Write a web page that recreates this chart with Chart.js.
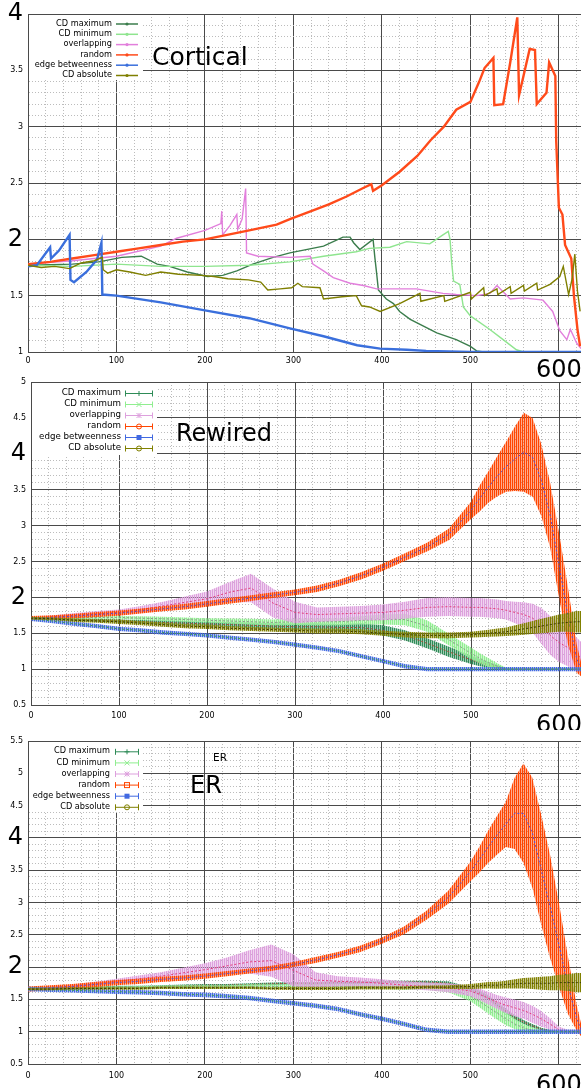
<!DOCTYPE html>
<html>
<head>
<meta charset="utf-8">
<script src="https://cdn.jsdelivr.net/npm/chart.js@4.4.0/dist/chart.umd.min.js"></script>
<style>
  html, body { margin: 0; padding: 0; background: #fff; }
  body { width: 581px; height: 1088px; position: relative; overflow: hidden; }
  canvas { position: absolute; left: 0; }
</style>
</head>
<body>
<canvas id="cortical" width="581" height="382" style="top:0px"></canvas>
<canvas id="rewired" width="581" height="354" style="top:376px"></canvas>
<canvas id="er" width="581" height="358" style="top:730px"></canvas>
<script>
const FONT = 'DejaVu Sans';

const seriesNames = ['CD maximum', 'CD minimum', 'overlapping', 'random', 'edge betweenness', 'CD absolute'];
const cortColors = ['#3b7d4c', '#8fe58f', '#e27fdc', '#ff4a1a', '#3a6fdc', '#7f7f00'];
const bandColors = ['#2e8b57', '#90ee90', '#dda0dd', '#ff4500', '#4169e1', '#808000'];
const centerColors = ['#a8503a', '#8a9a8a', '#e0407a', '#5a4fd0', '#40a050', '#3c3c00'];

const xLabelValues = [0, 100, 200, 300, 400, 500, 600];
const bigXLabels = [600];
const bigYLabels = [2, 4];
const xMax = 625;

// ---- Cortical (single run, own x positions per series)
const cortMaxX = [0, 50, 80, 106, 128, 146, 160, 180, 203, 220, 236, 254, 277, 296, 334, 356, 364, 368, 375, 390, 392, 394, 396, 405, 413, 420, 432, 462, 484, 500, 507, 515, 625];
const cortMaxY = [1.77, 1.78, 1.80, 1.84, 1.85, 1.78, 1.76, 1.71, 1.67, 1.68, 1.72, 1.78, 1.84, 1.88, 1.94, 2.02, 2.02, 1.97, 1.91, 2.00, 1.84, 1.70, 1.55, 1.47, 1.43, 1.36, 1.29, 1.17, 1.11, 1.05, 1.01, 1.00, 1.00];

const cortMinX = [0, 50, 100, 150, 200, 250, 296, 334, 371, 386, 409, 428, 454, 469, 475, 477, 479, 481, 488, 492, 500, 522, 537, 552, 560, 625];
const cortMinY = [1.77, 1.76, 1.78, 1.76, 1.76, 1.77, 1.80, 1.85, 1.89, 1.92, 1.93, 1.98, 1.96, 2.04, 2.07, 2.00, 1.78, 1.63, 1.60, 1.40, 1.32, 1.20, 1.11, 1.02, 1.00, 1.00];

const cortOverX = [0, 50, 100, 150, 168, 200, 218, 219, 220, 228, 236, 237, 242, 246, 247, 260, 296, 319, 322, 334, 345, 364, 379, 394, 409, 439, 469, 484, 507, 522, 530, 545, 560, 582, 593, 601, 609, 613, 620, 625];
const cortOverY = [1.78, 1.81, 1.85, 1.94, 2.01, 2.08, 2.14, 2.25, 2.04, 2.12, 2.22, 2.09, 2.18, 2.45, 1.88, 1.85, 1.84, 1.85, 1.78, 1.72, 1.66, 1.61, 1.59, 1.56, 1.56, 1.56, 1.52, 1.51, 1.50, 1.52, 1.59, 1.47, 1.48, 1.46, 1.36, 1.19, 1.11, 1.20, 1.08, 1.03];

const cortRandX = [0, 25, 50, 75, 100, 125, 150, 175, 200, 225, 250, 281, 296, 320, 340, 360, 380, 388, 390, 400, 420, 440, 455, 470, 484, 500, 510, 516, 526, 527, 537, 545, 553, 555, 560, 567, 573, 575, 586, 589, 596, 597, 600, 604, 607, 614, 617, 621, 624];
const cortRandY = [1.78, 1.80, 1.83, 1.86, 1.89, 1.92, 1.95, 1.98, 2.00, 2.04, 2.08, 2.13, 2.18, 2.25, 2.31, 2.38, 2.46, 2.49, 2.43, 2.48, 2.60, 2.74, 2.88, 3.00, 3.15, 3.22, 3.40, 3.52, 3.61, 3.19, 3.20, 3.57, 3.97, 3.28, 3.45, 3.69, 3.68, 3.20, 3.30, 3.57, 3.45, 2.87, 2.28, 2.22, 1.95, 1.83, 1.50, 1.20, 1.05];

const cortEdgeX = [0, 10, 25, 26, 35, 47, 48, 52, 66, 78, 83, 84, 100, 150, 200, 250, 296, 334, 372, 398, 428, 450, 500, 550, 600, 625];
const cortEdgeY = [1.76, 1.77, 1.93, 1.83, 1.90, 2.04, 1.64, 1.62, 1.71, 1.82, 1.97, 1.51, 1.50, 1.44, 1.37, 1.30, 1.21, 1.14, 1.06, 1.03, 1.02, 1.01, 1.00, 1.00, 1.00, 1.00];

const cortAbsX = [0, 15, 30, 47, 60, 75, 84, 85, 90, 100, 115, 133, 150, 170, 196, 210, 226, 249, 263, 271, 285, 298, 305, 310, 330, 334, 355, 371, 377, 386, 398, 420, 443, 444, 470, 471, 500, 501, 515, 516, 530, 531, 545, 546, 560, 561, 575, 576, 590, 601, 605, 611, 615, 618, 621, 624];
const cortAbsY = [1.77, 1.75, 1.76, 1.74, 1.79, 1.81, 1.84, 1.73, 1.70, 1.73, 1.71, 1.68, 1.71, 1.69, 1.68, 1.67, 1.65, 1.64, 1.62, 1.55, 1.56, 1.57, 1.61, 1.58, 1.57, 1.47, 1.49, 1.50, 1.41, 1.40, 1.36, 1.43, 1.52, 1.45, 1.50, 1.45, 1.53, 1.47, 1.57, 1.50, 1.56, 1.51, 1.58, 1.52, 1.59, 1.54, 1.61, 1.55, 1.60, 1.67, 1.76, 1.51, 1.65, 1.87, 1.54, 1.36];

// ---- Rewired (mean and error per x)
const rewX = [0, 25, 50, 75, 100, 125, 150, 175, 200, 225, 250, 275, 300, 325, 350, 375, 400, 425, 450, 475, 500, 510, 520, 530, 540, 550, 560, 570, 580, 590, 600, 610, 620, 625];
const rewMax = [1.71, 1.70, 1.69, 1.68, 1.67, 1.66, 1.65, 1.64, 1.63, 1.62, 1.61, 1.60, 1.59, 1.59, 1.58, 1.58, 1.54, 1.47, 1.36, 1.24, 1.13, 1.09, 1.06, 1.03, 1.00, 1.00, 1.00, 1.00, 1.00, 1.00, 1.00, 1.00, 1.00, 1.00];
const rewMaxErr = [0.01, 0.015, 0.02, 0.02, 0.02, 0.025, 0.03, 0.03, 0.03, 0.035, 0.04, 0.04, 0.045, 0.05, 0.05, 0.06, 0.07, 0.07, 0.07, 0.07, 0.06, 0.05, 0.04, 0.03, 0.01, 0.01, 0.01, 0.01, 0.01, 0.01, 0.01, 0.01, 0.01, 0.01];
const rewMin = [1.71, 1.72, 1.72, 1.72, 1.72, 1.71, 1.70, 1.69, 1.68, 1.67, 1.66, 1.65, 1.66, 1.66, 1.66, 1.68, 1.69, 1.69, 1.60, 1.41, 1.22, 1.15, 1.09, 1.04, 1.00, 1.00, 1.00, 1.00, 1.00, 1.00, 1.00, 1.00, 1.00, 1.00];
const rewMinErr = [0.01, 0.015, 0.02, 0.02, 0.02, 0.025, 0.03, 0.03, 0.03, 0.035, 0.04, 0.04, 0.045, 0.05, 0.05, 0.06, 0.07, 0.08, 0.08, 0.08, 0.08, 0.07, 0.06, 0.04, 0.02, 0.01, 0.01, 0.01, 0.01, 0.01, 0.01, 0.01, 0.01, 0.01];
const rewOver = [1.71, 1.73, 1.75, 1.77, 1.79, 1.83, 1.88, 1.93, 1.98, 2.07, 2.13, 1.92, 1.79, 1.76, 1.77, 1.78, 1.79, 1.82, 1.86, 1.87, 1.86, 1.86, 1.85, 1.84, 1.82, 1.79, 1.76, 1.71, 1.60, 1.47, 1.37, 1.30, 1.20, 1.16];
const rewOverErr = [0.01, 0.02, 0.03, 0.04, 0.04, 0.05, 0.06, 0.08, 0.10, 0.14, 0.20, 0.20, 0.15, 0.10, 0.10, 0.10, 0.11, 0.12, 0.13, 0.13, 0.13, 0.13, 0.13, 0.13, 0.13, 0.15, 0.17, 0.20, 0.25, 0.27, 0.27, 0.26, 0.24, 0.22];
const rewRand = [1.71, 1.72, 1.74, 1.76, 1.78, 1.81, 1.84, 1.87, 1.91, 1.95, 1.99, 2.03, 2.07, 2.12, 2.20, 2.30, 2.42, 2.56, 2.70, 2.88, 3.21, 3.38, 3.54, 3.69, 3.82, 3.93, 4.02, 3.95, 3.63, 3.14, 2.45, 1.75, 1.15, 1.00];
const rewRandErr = [0.03, 0.03, 0.03, 0.035, 0.035, 0.035, 0.035, 0.04, 0.04, 0.04, 0.04, 0.04, 0.04, 0.045, 0.045, 0.05, 0.05, 0.055, 0.06, 0.08, 0.12, 0.18, 0.22, 0.28, 0.35, 0.45, 0.55, 0.55, 0.50, 0.45, 0.45, 0.40, 0.20, 0.10];
const rewEdge = [1.70, 1.67, 1.63, 1.60, 1.56, 1.54, 1.51, 1.49, 1.47, 1.44, 1.41, 1.38, 1.34, 1.30, 1.25, 1.18, 1.11, 1.04, 1.00, 1.00, 1.00, 1.00, 1.00, 1.00, 1.00, 1.00, 1.00, 1.00, 1.00, 1.00, 1.00, 1.00, 1.00, 1.00];
const rewEdgeErr = [0.03, 0.03, 0.03, 0.03, 0.03, 0.03, 0.03, 0.03, 0.03, 0.03, 0.03, 0.03, 0.03, 0.03, 0.03, 0.03, 0.03, 0.03, 0.03, 0.03, 0.03, 0.03, 0.03, 0.03, 0.03, 0.03, 0.03, 0.03, 0.03, 0.03, 0.03, 0.03, 0.03, 0.03];
const rewAbs = [1.71, 1.70, 1.68, 1.67, 1.66, 1.64, 1.62, 1.60, 1.59, 1.57, 1.56, 1.55, 1.54, 1.53, 1.53, 1.52, 1.50, 1.48, 1.47, 1.47, 1.48, 1.49, 1.50, 1.51, 1.52, 1.54, 1.56, 1.58, 1.60, 1.62, 1.64, 1.65, 1.66, 1.66];
const rewAbsErr = [0.02, 0.02, 0.025, 0.025, 0.03, 0.03, 0.03, 0.03, 0.03, 0.03, 0.03, 0.03, 0.03, 0.035, 0.035, 0.035, 0.035, 0.04, 0.04, 0.04, 0.04, 0.045, 0.05, 0.055, 0.06, 0.07, 0.08, 0.09, 0.10, 0.11, 0.12, 0.13, 0.15, 0.15];

// ---- ER
const erX = [0, 25, 50, 75, 100, 125, 150, 175, 200, 225, 250, 275, 300, 325, 350, 375, 400, 425, 450, 475, 500, 510, 520, 530, 540, 550, 560, 570, 580, 590, 600, 610, 620, 625];
const erMax = [1.66, 1.67, 1.67, 1.68, 1.69, 1.69, 1.70, 1.71, 1.72, 1.72, 1.73, 1.74, 1.75, 1.75, 1.76, 1.76, 1.77, 1.77, 1.77, 1.75, 1.66, 1.60, 1.53, 1.42, 1.32, 1.22, 1.15, 1.09, 1.04, 1.01, 1.00, 1.00, 1.00, 1.00];
const erMaxErr = [0.01, 0.015, 0.02, 0.02, 0.02, 0.02, 0.02, 0.02, 0.02, 0.02, 0.02, 0.02, 0.02, 0.02, 0.02, 0.02, 0.02, 0.02, 0.02, 0.03, 0.03, 0.04, 0.04, 0.04, 0.04, 0.04, 0.03, 0.03, 0.02, 0.02, 0.02, 0.02, 0.02, 0.02];
const erMin = [1.66, 1.67, 1.67, 1.68, 1.68, 1.68, 1.69, 1.69, 1.69, 1.69, 1.70, 1.70, 1.70, 1.70, 1.70, 1.70, 1.70, 1.70, 1.70, 1.67, 1.55, 1.47, 1.38, 1.29, 1.20, 1.12, 1.06, 1.02, 1.00, 1.00, 1.00, 1.00, 1.00, 1.00];
const erMinErr = [0.01, 0.015, 0.02, 0.02, 0.02, 0.025, 0.025, 0.03, 0.03, 0.03, 0.035, 0.035, 0.035, 0.04, 0.04, 0.04, 0.04, 0.05, 0.05, 0.06, 0.08, 0.09, 0.10, 0.10, 0.10, 0.08, 0.06, 0.05, 0.03, 0.02, 0.02, 0.02, 0.02, 0.02];
const erOver = [1.66, 1.68, 1.70, 1.74, 1.78, 1.82, 1.86, 1.91, 1.96, 2.02, 2.08, 2.10, 1.95, 1.80, 1.78, 1.77, 1.75, 1.72, 1.70, 1.68, 1.63, 1.58, 1.52, 1.46, 1.41, 1.37, 1.33, 1.27, 1.20, 1.12, 1.03, 1.00, 1.00, 1.00];
const erOverErr = [0.01, 0.02, 0.03, 0.035, 0.04, 0.05, 0.06, 0.08, 0.10, 0.13, 0.18, 0.25, 0.25, 0.12, 0.08, 0.07, 0.06, 0.06, 0.06, 0.07, 0.08, 0.09, 0.10, 0.11, 0.12, 0.13, 0.13, 0.13, 0.12, 0.09, 0.05, 0.03, 0.03, 0.03];
const erRand = [1.66, 1.68, 1.70, 1.73, 1.76, 1.78, 1.81, 1.83, 1.86, 1.90, 1.94, 1.98, 2.04, 2.11, 2.19, 2.28, 2.41, 2.57, 2.80, 3.08, 3.48, 3.66, 3.86, 4.04, 4.21, 4.38, 4.38, 4.08, 3.51, 2.94, 2.35, 1.73, 1.22, 1.03];
const erRandErr = [0.04, 0.04, 0.04, 0.04, 0.04, 0.04, 0.04, 0.04, 0.04, 0.04, 0.04, 0.04, 0.04, 0.045, 0.045, 0.05, 0.05, 0.06, 0.07, 0.10, 0.15, 0.20, 0.25, 0.30, 0.35, 0.55, 0.77, 0.85, 0.85, 0.80, 0.65, 0.45, 0.20, 0.10];
const erEdge = [1.66, 1.65, 1.64, 1.63, 1.62, 1.61, 1.60, 1.58, 1.57, 1.55, 1.52, 1.48, 1.44, 1.40, 1.35, 1.27, 1.20, 1.12, 1.03, 1.00, 1.00, 1.00, 1.00, 1.00, 1.00, 1.00, 1.00, 1.00, 1.00, 1.00, 1.00, 1.00, 1.00, 1.00];
const erEdgeErr = [0.035, 0.035, 0.035, 0.035, 0.035, 0.035, 0.035, 0.035, 0.035, 0.035, 0.035, 0.035, 0.035, 0.035, 0.035, 0.035, 0.035, 0.035, 0.035, 0.035, 0.035, 0.035, 0.035, 0.035, 0.035, 0.035, 0.035, 0.035, 0.035, 0.035, 0.035, 0.035, 0.035, 0.035];
const erAbs = [1.66, 1.66, 1.67, 1.67, 1.67, 1.67, 1.68, 1.68, 1.68, 1.68, 1.68, 1.67, 1.67, 1.67, 1.67, 1.68, 1.68, 1.68, 1.69, 1.69, 1.70, 1.71, 1.72, 1.72, 1.73, 1.74, 1.75, 1.75, 1.75, 1.75, 1.76, 1.76, 1.76, 1.76];
const erAbsErr = [0.02, 0.02, 0.02, 0.02, 0.02, 0.02, 0.02, 0.02, 0.02, 0.02, 0.02, 0.02, 0.025, 0.025, 0.025, 0.025, 0.025, 0.025, 0.025, 0.03, 0.04, 0.045, 0.05, 0.055, 0.06, 0.07, 0.08, 0.09, 0.10, 0.11, 0.12, 0.13, 0.15, 0.15];

Chart.defaults.font.family = FONT;
Chart.defaults.color = '#000';

const MAJOR = '#4a4a4a';
const MINOR = '#bcbcbc';
const SMALL = { family: FONT, size: 8 };
const BIG = { family: FONT, size: 24 };

function pts(xs, ys) {
  return xs.map((x, i) => ({ x: x, y: ys[i] }));
}

function hatch(color) {
  const c = document.createElement('canvas');
  c.width = 2; c.height = 1;
  const g = c.getContext('2d');
  g.fillStyle = color;
  g.fillRect(0, 0, 1, 1);
  g.globalAlpha = 0.45;
  g.fillRect(1, 0, 1, 1);
  return g.createPattern(c, 'repeat');
}

function cortDatasets(series) {
  return series.map((s, i) => ({
    data: pts(s[0], s[1]),
    borderColor: cortColors[i],
    borderWidth: (i === 3 || i === 4) ? 2.4 : 1.4,
    pointRadius: 0,
    fill: false,
    tension: 0,
    order: 10 * (6 - i)
  }));
}

function bandDatasets(xs, series) {
  const out = [];
  series.forEach((s, i) => {
    const mean = s[0], err = s[1];
    const lowIdx = out.length;
    out.push({
      data: pts(xs, mean.map((v, k) => v - err[k])),
      borderWidth: 0, borderColor: 'rgba(0,0,0,0)', pointRadius: 0, fill: false,
      order: 10 * (6 - i) + 5
    });
    out.push({
      data: pts(xs, mean.map((v, k) => v + err[k])),
      borderWidth: 0, borderColor: 'rgba(0,0,0,0)', pointRadius: 0,
      fill: lowIdx, backgroundColor: hatch(bandColors[i]),
      order: 10 * (6 - i) + 5
    });
    out.push({
      data: pts(xs, mean),
      borderColor: centerColors[i], borderWidth: 1, borderDash: [2, 2],
      pointRadius: 0, fill: false,
      order: 10 * (6 - i)
    });
  });
  return out;
}

function drawMarker(ctx, type, x, y, r, color) {
  ctx.save();
  ctx.strokeStyle = color;
  ctx.fillStyle = color;
  ctx.lineWidth = 1;
  ctx.beginPath();
  if (type === 'plus' || type === 'star') {
    ctx.moveTo(x - r, y); ctx.lineTo(x + r, y);
    ctx.moveTo(x, y - r); ctx.lineTo(x, y + r);
  }
  if (type === 'cross' || type === 'star') {
    ctx.moveTo(x - r, y - r); ctx.lineTo(x + r, y + r);
    ctx.moveTo(x - r, y + r); ctx.lineTo(x + r, y - r);
  }
  ctx.stroke();
  if (type === 'circle') { ctx.beginPath(); ctx.arc(x, y, r, 0, Math.PI * 2); ctx.stroke(); }
  if (type === 'square') ctx.strokeRect(x - r, y - r, 2 * r, 2 * r);
  if (type === 'fsquare') ctx.fillRect(x - r, y - r, 2 * r, 2 * r);
  if (type === 'dot') { ctx.beginPath(); ctx.arc(x, y, 1.6, 0, Math.PI * 2); ctx.fill(); }
  ctx.restore();
}

function decor(p) {
  return {
    id: 'decor',
    beforeDatasetsDraw(chart) {
      const a = chart.chartArea, ctx = chart.ctx;
      ctx.save();
      ctx.fillStyle = '#fff';
      ctx.fillRect(a.left + 1, a.top + 1, p.box[0], p.box[1]);
      ctx.restore();
    },
    afterDraw(chart) {
      const ctx = chart.ctx, L = p.leg;
      ctx.save();
      ctx.textBaseline = 'middle';
      seriesNames.forEach((name, i) => {
        const y = L.y0 + i * L.dy;
        ctx.font = L.size + 'px "' + FONT + '"';
        ctx.textAlign = 'right';
        ctx.fillStyle = '#000';
        ctx.fillText(name, L.tx, y);
        const col = L.colors[i];
        ctx.strokeStyle = col;
        ctx.lineWidth = L.caps ? 1 : 1.5;
        ctx.beginPath();
        ctx.moveTo(L.x1, y + 0.5); ctx.lineTo(L.x2, y + 0.5);
        if (L.caps) {
          ctx.moveTo(L.x1 + 0.5, y - 2.5); ctx.lineTo(L.x1 + 0.5, y + 3.5);
          ctx.moveTo(L.x2 - 0.5, y - 2.5); ctx.lineTo(L.x2 - 0.5, y + 3.5);
        }
        ctx.stroke();
        drawMarker(ctx, L.markers[i], (L.x1 + L.x2) / 2, y + 0.5, 2.5, col);
      });
      ctx.fillStyle = '#000';
      ctx.textAlign = 'left';
      p.titles.forEach(t => {
        ctx.font = t.size + 'px "' + FONT + '"';
        ctx.fillText(t.text, t.x, t.y);
      });
      ctx.restore();
    }
  };
}

function makePanel(id, p) {
  const isMajorX = c => c.tick && c.tick.value % 100 === 0;
  const isMajorY = c => c.tick && Math.round(c.tick.value * 10) % 5 === 0;
  new Chart(document.getElementById(id), {
    type: 'line',
    data: { datasets: p.datasets },
    options: {
      responsive: false,
      animation: false,
      events: [],
      layout: { padding: { top: p.padTop, left: 0, right: 0, bottom: 0 } },
      plugins: { legend: { display: false }, tooltip: { enabled: false } },
      scales: {
        x: {
          type: 'linear', min: 0, max: xMax, bounds: 'data',
          afterFit: s => { s.height = p.xH; s.paddingLeft = 0; s.paddingRight = 0; },
          ticks: {
            stepSize: 20, autoSkip: false, includeBounds: false, maxRotation: 0,
            padding: p.xPad, color: '#000',
            callback: v => xLabelValues.includes(v) ? String(v) : '',
            font: c => (c.tick && bigXLabels.includes(c.tick.value)) ? BIG : SMALL
          },
          grid: { drawTicks: false, color: c => isMajorX(c) ? MAJOR : MINOR, lineWidth: 1 },
          border: { color: MAJOR, width: 1, dash: c => (c.tick && !isMajorX(c)) ? [1, 2] : [] }
        },
        y: {
          type: 'linear', min: p.yMin, max: p.yMax, bounds: 'data',
          afterFit: s => { s.width = p.axisW; s.paddingTop = 0; s.paddingBottom = 0; },
          ticks: {
            stepSize: 0.1, autoSkip: false, includeBounds: false, padding: 5, color: '#000',
            callback: v => { const k = Math.round(v * 10); return k % 5 === 0 ? String(k / 10) : ''; },
            font: c => (c.tick && bigYLabels.includes(Math.round(c.tick.value * 10) / 10)) ? BIG : SMALL
          },
          grid: { drawTicks: false, color: c => isMajorY(c) ? MAJOR : MINOR, lineWidth: 1 },
          border: { color: MAJOR, width: 1, dash: c => (c.tick && !isMajorY(c)) ? [1, 2] : [] }
        }
      }
    },
    plugins: [decor(p)]
  });
}

makePanel('cortical', {
  padTop: 14, xH: 30, xPad: 4, axisW: 28, yMin: 1, yMax: 4,
  box: [114, 65],
  leg: { y0: 23.5, dy: 10.3, size: 8.2, tx: 112, x1: 116, x2: 138, caps: false,
         colors: cortColors, markers: ['dot', 'dot', 'dot', 'dot', 'dot', 'dot'] },
  titles: [{ text: 'Cortical', x: 152, y: 58, size: 25 }],
  datasets: cortDatasets([
    [cortMaxX, cortMaxY], [cortMinX, cortMinY], [cortOverX, cortOverY],
    [cortRandX, cortRandY], [cortEdgeX, cortEdgeY], [cortAbsX, cortAbsY]
  ])
});

makePanel('rewired', {
  padTop: 6, xH: 25, xPad: 6, axisW: 31, yMin: 0.5, yMax: 5,
  box: [125, 72],
  leg: { y0: 17, dy: 11, size: 8.7, tx: 121, x1: 125, x2: 153, caps: true,
         colors: bandColors, markers: ['plus', 'cross', 'star', 'circle', 'fsquare', 'circle'] },
  titles: [{ text: 'Rewired', x: 176, y: 59, size: 24 }],
  datasets: bandDatasets(rewX, [
    [rewMax, rewMaxErr], [rewMin, rewMinErr], [rewOver, rewOverErr],
    [rewRand, rewRandErr], [rewEdge, rewEdgeErr], [rewAbs, rewAbsErr]
  ])
});

makePanel('er', {
  padTop: 11, xH: 24, xPad: 7, axisW: 28, yMin: 0.5, yMax: 5.5,
  box: [114, 70],
  leg: { y0: 21.3, dy: 11.1, size: 8.2, tx: 110, x1: 115, x2: 139, caps: true,
         colors: bandColors, markers: ['plus', 'cross', 'star', 'square', 'fsquare', 'circle'] },
  titles: [{ text: 'ER', x: 213, y: 28, size: 10.5 }, { text: 'ER', x: 190, y: 57, size: 24 }],
  datasets: bandDatasets(erX, [
    [erMax, erMaxErr], [erMin, erMinErr], [erOver, erOverErr],
    [erRand, erRandErr], [erEdge, erEdgeErr], [erAbs, erAbsErr]
  ])
});
</script>
</body>
</html>
